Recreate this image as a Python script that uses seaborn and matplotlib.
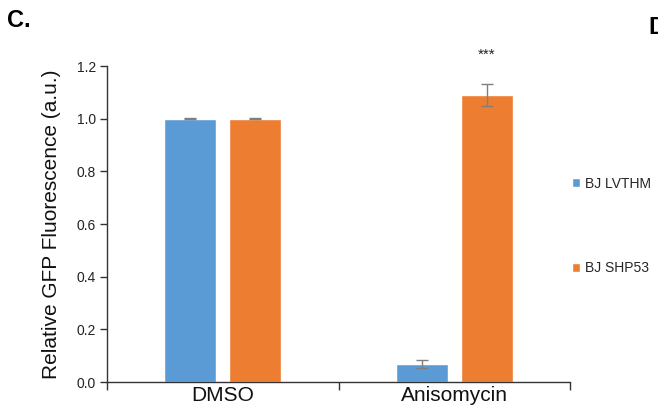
import matplotlib
matplotlib.use("Agg")
import matplotlib.pyplot as plt
from matplotlib.ticker import FixedLocator, FormatStrFormatter
import numpy as np
import pandas as pd
import seaborn as sns

# Relative GFP fluorescence per treatment and cell line
treatments = ["DMSO", "Anisomycin"]
cell_lines = ["BJ LVTHM", "BJ SHP53"]
lvthm_mean = [1.00, 0.07]
lvthm_err = [0.002, 0.015]
shp53_mean = [1.00, 1.09]
shp53_err = [0.002, 0.041]
yticks = [0.0, 0.2, 0.4, 0.6, 0.8, 1.0, 1.2]
significance = ["", "***"]

colors = ["#5B9BD5", "#ED7D31"]

sns.set_theme(style="white")
plt.rcParams["font.family"] = ["Liberation Sans", "DejaVu Sans"]

df = pd.DataFrame({
    "treatment": treatments * 2,
    "line": [cell_lines[0]] * 2 + [cell_lines[1]] * 2,
    "value": lvthm_mean + shp53_mean,
})
errors = {cell_lines[0]: lvthm_err, cell_lines[1]: shp53_err}

fig = plt.figure(figsize=(6.58, 4.08), dpi=100)
ax = fig.add_axes([0.1626, 0.0637, 0.8663 - 0.1626, 0.8382 - 0.0637])

sns.barplot(data=df, x="treatment", y="value", hue="line",
            hue_order=cell_lines, order=treatments, palette=colors,
            width=0.56, gap=0.2, errorbar=None, saturation=1,
            ax=ax)

# Error bars and significance marks placed on the drawn bars
for container, line in zip(ax.containers, cell_lines):
    for i, bar in enumerate(container):
        xc = bar.get_x() + bar.get_width() / 2
        h = bar.get_height()
        ax.errorbar(xc, h, yerr=errors[line][i], color="#7F7F7F",
                    elinewidth=1.0, capsize=4.5, capthick=1.0, zorder=5)
        if line == cell_lines[1] and significance[i]:
            ax.text(xc, 1.215, significance[i], ha="center", va="bottom",
                    fontsize=11, color="#222222", clip_on=False)

handles, labels = ax.get_legend_handles_labels()
ax.get_legend().remove()

ax.set_xlim(-0.5, 1.5)
ax.set_ylim(0, 1.2)
ax.set_yticks(yticks)
ax.yaxis.set_major_formatter(FormatStrFormatter("%.1f"))
ax.set_xlabel("")
ax.set_ylabel("Relative GFP Fluorescence (a.u.)", fontsize=15,
              color="#111111", labelpad=11)

for s in ["top", "right"]:
    ax.spines[s].set_visible(False)
for s in ["left", "bottom"]:
    ax.spines[s].set_color("#333333")
    ax.spines[s].set_linewidth(1.0)

ax.tick_params(axis="y", which="major", direction="out", length=5, width=1,
               color="#333333", labelsize=10, labelcolor="#222222", pad=3,
               left=True)
ax.tick_params(axis="x", which="major", length=0, labelsize=15,
               labelcolor="#111111", pad=3)
ax.xaxis.set_minor_locator(FixedLocator([-0.5, 0.5, 1.5]))
ax.tick_params(axis="x", which="minor", direction="out", length=6, width=1,
               color="#333333", bottom=True)

leg = fig.legend(handles, labels, loc="upper left",
                 bbox_to_anchor=(559 / 658, 1 - 164 / 408),
                 frameon=False, handlelength=0.6, handleheight=0.6,
                 handletextpad=0.35, labelspacing=5.1,
                 prop={"family": ["Liberation Sans Narrow", "Liberation Sans"],
                       "size": 10})

fig.text(0.010, 0.978, "C.", fontsize=17, fontweight="bold", va="top",
         ha="left", color="black")
fig.text(0.985, 0.962, "D", fontsize=17, fontweight="bold", va="top",
         ha="left", color="black")

fig.savefig("out.png", dpi=100)
